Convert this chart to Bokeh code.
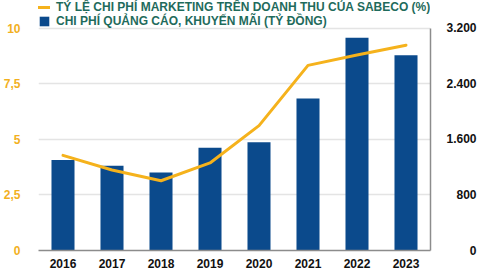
from bokeh.plotting import figure
from bokeh.models import Range1d, LinearAxis, FixedTicker, Legend, LegendItem, FactorRange
from bokeh.embed import file_html
from bokeh.resources import INLINE

# ---- data ----
years = ["2016", "2017", "2018", "2019", "2020", "2021", "2022", "2023"]
marketing_ratio_pct = [4.28, 3.62, 3.14, 3.94, 5.62, 8.33, 8.80, 9.24]
ad_promo_cost_bn = [1302, 1220, 1125, 1478, 1560, 2189, 3064, 2811]

left_ticks = [0, 2.5, 5, 7.5, 10]
left_tick_labels = ["0", "2,5", "5", "7,5", "10"]
right_ticks = [0, 800, 1600, 2400, 3200]
right_tick_labels = ["0", "800", "1.600", "2.400", "3.200"]

series_names = [
    "TỶ LỆ CHI PHÍ MARKETING TRÊN DOANH THU CỦA SABECO (%)",
    "CHI PHÍ QUẢNG CÁO, KHUYẾN MÃI (TỶ ĐỒNG)",
]

# ---- styles ----
BAR = "#0b4a8c"
LINE = "#f5b21c"
LEFT_LBL = "#f2b01e"
TEAL = "#1f6b5c"
AXIS_GRAY = "#8c8c8c"
GRID = "#e4e4e4"
FONT = "Liberation Sans"

LEFT_MAX = left_ticks[-1]
RIGHT_MAX = right_ticks[-1]
HEADROOM = 1.125  # frame extends above the top tick to hold the legend


def pad_right(lbl, labels):
    digits = sum(c.isdigit() for c in lbl)
    dots = lbl.count(".")
    md = max(sum(c.isdigit() for c in l) for l in labels)
    mp = max(l.count(".") for l in labels)
    return "\u2007" * (md - digits) + "\u2008" * (mp - dots) + lbl


p = figure(
    width=480, height=270,
    x_range=FactorRange(*years, range_padding=0),
    y_range=Range1d(0, LEFT_MAX * HEADROOM),
    output_backend="svg", toolbar_location=None,
    min_border_left=30, min_border_right=50, min_border_top=0, min_border_bottom=0,
)
p.outline_line_color = None
p.extra_y_ranges = {"amt": Range1d(0, RIGHT_MAX * HEADROOM)}

bars = p.vbar(x=years, top=ad_promo_cost_bn, width=0.47, y_range_name="amt",
              fill_color=BAR, line_color=None)
line = p.line(x=years, y=marketing_ratio_pct, line_color=LINE, line_width=3,
              line_join="round", line_cap="round")

# x axis
xa = p.xaxis[0]
xa.major_tick_line_color = None
xa.minor_tick_line_color = None
xa.axis_line_color = AXIS_GRAY
xa.axis_line_width = 1.5
xa.major_label_standoff = 2
xa.major_label_text_font = FONT
xa.major_label_text_font_style = "bold"
xa.major_label_text_font_size = "12px"
xa.major_label_text_color = "#111111"

# left axis
ya = p.yaxis[0]
ya.ticker = FixedTicker(ticks=left_ticks)
ya.major_label_overrides = dict(zip(left_ticks, left_tick_labels))
ya.axis_line_color = None
ya.major_tick_line_color = None
ya.minor_tick_line_color = None
ya.major_label_standoff = 12
ya.major_label_text_font = FONT
ya.major_label_text_font_style = "bold"
ya.major_label_text_font_size = "12px"
ya.major_label_text_color = LEFT_LBL

# right axis (rule limited to the tick span)
ra = LinearAxis(
    y_range_name="amt",
    ticker=FixedTicker(ticks=right_ticks),
    bounds=(0, RIGHT_MAX),
    major_label_overrides={t: pad_right(l, right_tick_labels) for t, l in zip(right_ticks, right_tick_labels)},
)
ra.axis_line_color = AXIS_GRAY
ra.axis_line_width = 1.5
ra.major_tick_line_color = None
ra.minor_tick_line_color = None
ra.major_label_standoff = 10
ra.major_label_text_font = FONT
ra.major_label_text_font_style = "bold"
ra.major_label_text_font_size = "12px"
ra.major_label_text_color = "#111111"
p.add_layout(ra, "right")

# grid
p.xgrid.grid_line_color = None
p.ygrid.ticker = FixedTicker(ticks=left_ticks)
p.ygrid.grid_line_color = GRID
p.ygrid.grid_line_width = 1.5

# legend inside the (extended) frame, top-left
legend = Legend(
    items=[LegendItem(label=series_names[0], renderers=[line]),
           LegendItem(label=series_names[1], renderers=[bars])],
    location="top_left",
    orientation="vertical",
    padding=0, margin=0, spacing=0,
    glyph_width=12, glyph_height=12, label_height=12, label_standoff=6,
    border_line_color=None, background_fill_alpha=0,
    label_text_font=FONT, label_text_font_style="bold",
    label_text_font_size="12px", label_text_color=TEAL,
)
p.add_layout(legend)

open("out.html", "w").write(file_html(p, INLINE))
